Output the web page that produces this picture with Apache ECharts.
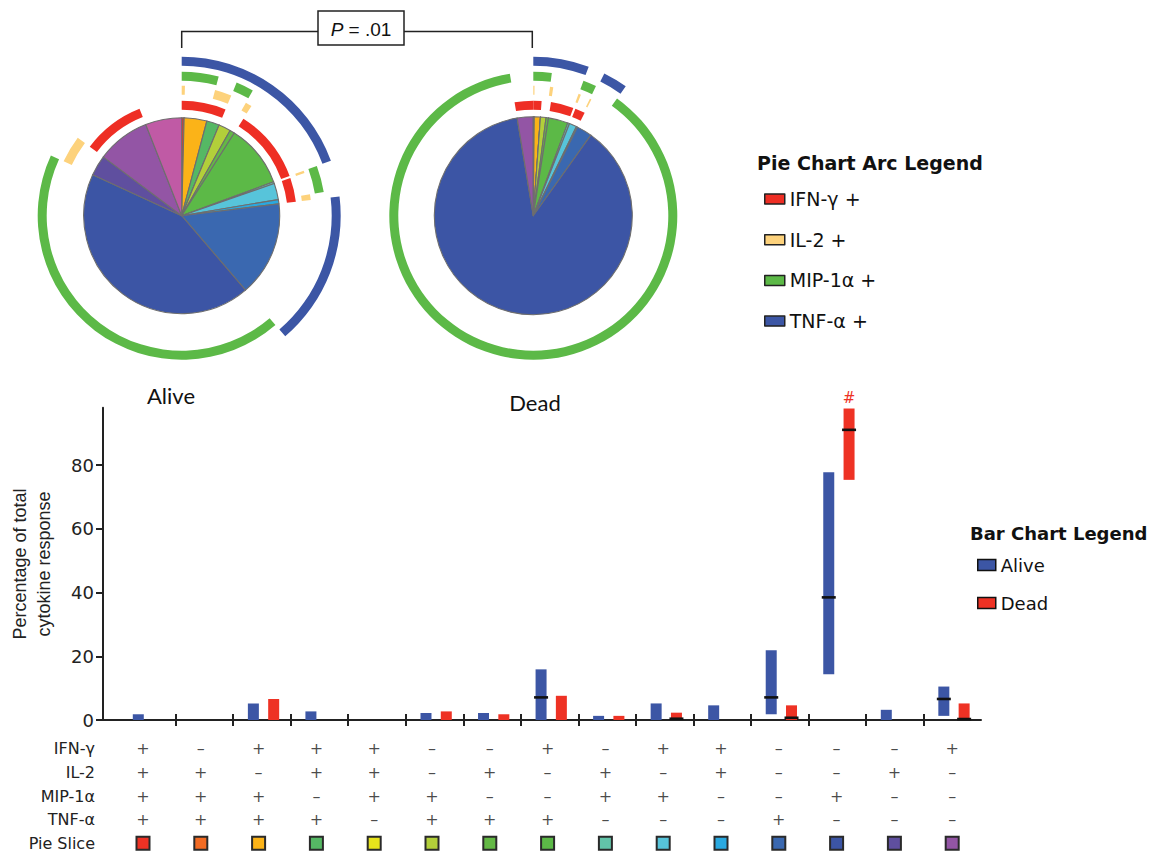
<!DOCTYPE html>
<html><head><meta charset="utf-8">
<script src="https://cdn.jsdelivr.net/npm/echarts@6.0.0/dist/echarts.min.js"></script>
<style>html,body{margin:0;padding:0;background:#fff}#c{width:1157px;height:855px}</style>
</head><body><div id="c"></div>
<script>
// ---------- DATA ----------
const cytokines = ['IFN-γ', 'IL-2', 'MIP-1α', 'TNF-α'];
const arcNames = ['IFN-γ +', 'IL-2 +', 'MIP-1α +', 'TNF-α +'];
// table of combinations (15 categories), 1 = +, 0 = –
const ifng = [1,0,1,1,1,0,0,1,0,1,1,0,0,0,1];
const il2  = [1,1,0,1,1,0,1,0,1,0,1,0,0,1,0];
const mip  = [1,1,1,0,1,1,0,0,1,1,0,0,1,0,0];
const tnf  = [1,1,1,1,0,1,1,1,0,0,0,1,0,0,0];
const sliceColors = ['#ee3224','#f26b23','#fbb318','#55b864','#e7e31c','#b2cf3a','#63b845','#5cb947',
                     '#62c4a9','#57c4da','#2aa9e0','#3a68b0','#3c55a5','#5f4f9f','#9355a5'];
const otherColor = '#c05aa5';
const sliceNames = ['1','2','3','4','5','6','7','8','9','10','11','12','13','14','15','Other'];
// pie slice shares (%) — same order as table columns, plus "Other"
const alivePie = [0.4, 0, 3.75, 2.1, 0, 2.0, 0.8, 10.4, 0.3, 2.7, 0.7, 15.7, 43.3, 3.4, 8.8, 6.0];
const deadPie  = [0.15, 0, 1.0, 0, 0, 0.9, 0.4, 3.2, 0.3, 1.2, 0.2, 2.5, 87.3, 0, 2.6, 0];
// bar chart: floating ranges with medians
const aliveLow    = [0,null,0,0,null,0,0,0,0,0,0,1.8,14.4,0,1.3];
const aliveHigh   = [1.8,null,5.2,2.7,null,2.2,2.2,15.9,1.3,5.2,4.6,21.9,77.8,3.2,10.5];
const aliveMedian = [null,null,null,null,null,null,null,7.1,null,null,null,7.1,38.5,null,6.6];
const deadLow     = [null,null,0,null,null,0,0,0,0,0,null,0,75.4,null,0];
const deadHigh    = [null,null,6.6,null,null,2.7,1.8,7.6,1.3,2.3,null,4.6,97.8,null,5.2];
const deadMedian  = [null,null,null,null,null,null,null,null,null,0.4,null,0.7,91.1,null,0.3];
const deadNote    = ['','','','','','','','','','','','','#','',''];
const yTicks = [0, 20, 40, 60, 80];
const yMax = 98;
const pValueText = '{i|P} = .01';

// ---------- STYLE / LAYOUT ----------
const FONT = 'DejaVu Sans';
const ARC_COLORS = ['#ee2e24', '#fdd27c', '#5cb947', '#3c56a5'];
const ALIVE_COLOR = '#3c56a5', DEAD_COLOR = '#ee3224';
const pieA = [181.7, 215.7], pieD = [533.3, 215.7];
const ringR = [[106, 115], [121, 130], [135, 144], [150, 159]];
const gridL = 99, gridR = 981, col0 = 143, colStep = 57.8;
const xMin = (gridL - col0) / colStep, xMax = (gridR - col0) / colStep;
const flags = [ifng, il2, mip, tnf];
const idx = ifng.map((_, i) => i);
const boundaries = idx.map(i => i + 0.5);

function pieSeries(name, vals, center, r) {
  return {
    type: 'pie', name: name, center: center, radius: [0, r], startAngle: 90, clockwise: true,
    silent: true, animation: false, label: { show: false }, labelLine: { show: false },
    emphasis: { disabled: true },
    itemStyle: { borderColor: '#6e6e6e', borderWidth: 1.1, opacity: 1 },
    data: vals.map((v, i) => ({ value: v, name: sliceNames[i], itemStyle: { color: i < 15 ? sliceColors[i] : otherColor } }))
  };
}
// arcs: consecutive slices positive for cytokine k are merged into one run
function ringSeries(k, vals, center, tag) {
  const runs = [];
  vals.forEach((v, i) => {
    if (!(v > 0)) return;
    const pos = i < 15 && flags[k][i] === 1;
    const last = runs[runs.length - 1];
    if (last && last.pos === pos) last.value += v;
    else runs.push({ pos: pos, value: v });
  });
  return {
    type: 'pie', name: arcNames[k], center: center, radius: ringR[k], startAngle: 90, clockwise: true,
    silent: true, animation: false, label: { show: false }, labelLine: { show: false },
    emphasis: { disabled: true },
    itemStyle: { borderWidth: 0 },
    data: runs.map((r, j) => ({ value: r.value, name: tag + k + '-' + j,
      itemStyle: { color: r.pos ? ARC_COLORS[k] : 'rgba(0,0,0,0)' } }))
  };
}
function barSeries(name, low, high, med, note, offset, color) {
  return {
    type: 'custom', name: name, xAxisIndex: 0, yAxisIndex: 0, clip: false, animation: false,
    itemStyle: { color: color },
    encode: { x: 0, y: [1, 2] },
    data: idx.filter(i => high[i] != null).map(i => [i, low[i], high[i]]),
    renderItem: function (params, api) {
      const i = api.value(0);
      const a = api.coord([i, api.value(1)]), b = api.coord([i, api.value(2)]);
      const cx = a[0] + offset;
      const ch = [{ type: 'rect', shape: { x: cx - 5.5, y: b[1], width: 11, height: a[1] - b[1] }, style: { fill: color } }];
      if (med[i] != null) {
        const m = api.coord([i, med[i]]);
        ch.push({ type: 'rect', shape: { x: cx - 7, y: m[1] - 1.3, width: 14, height: 2.6 }, style: { fill: '#111' } });
      }
      if (note && note[i]) {
        ch.push({ type: 'text', style: { text: note[i], x: cx, y: b[1] - 3, align: 'center', verticalAlign: 'bottom',
          fill: color, fontSize: 15, fontFamily: FONT } });
      }
      return { type: 'group', children: ch };
    }
  };
}

const series = [];
series.push(pieSeries('Alive pie', alivePie, pieA, 98));
series.push(pieSeries('Dead pie', deadPie, pieD, 99));
for (let k = 0; k < 4; k++) { series.push(ringSeries(k, alivePie, pieA, 'a')); series.push(ringSeries(k, deadPie, pieD, 'd')); }
series.push(barSeries('Alive', aliveLow, aliveHigh, aliveMedian, null, -8.5, ALIVE_COLOR));
series.push(barSeries('Dead', deadLow, deadHigh, deadMedian, deadNote, 11.8, DEAD_COLOR));
// table signs
const signData = [];
for (let r = 0; r < 4; r++) for (const i of idx)
  signData.push({ value: [i, r], label: { formatter: flags[r][i] ? '+' : '–' } });
series.push({ type: 'scatter', name: 'table', xAxisIndex: 2, yAxisIndex: 1, silent: true, animation: false,
  symbol: 'circle', symbolSize: 1, itemStyle: { color: 'rgba(0,0,0,0)' },
  label: { show: true, position: 'inside', fontSize: 16, fontFamily: FONT, color: '#1a1a1a' },
  data: signData });
series.push({ type: 'scatter', name: 'slices', xAxisIndex: 2, yAxisIndex: 1, silent: true, animation: false,
  symbol: 'rect', symbolSize: 13,
  data: idx.map(i => ({ value: [i, 4], itemStyle: { color: sliceColors[i], borderColor: '#2a2a2a', borderWidth: 2, opacity: 1 } })) });

const option = {
  animation: false,
  textStyle: { fontFamily: FONT },
  grid: [
    { left: gridL, width: gridR - gridL, top: 720 - yMax * 3.185, height: yMax * 3.185 },
    { left: gridL, width: gridR - gridL, top: 737, height: 122 }
  ],
  xAxis: [
    { type: 'value', gridIndex: 0, min: xMin, max: xMax, position: 'bottom',
      axisLine: { onZero: false, lineStyle: { color: '#222', width: 2 } },
      axisTick: { show: true, length: 6, customValues: boundaries, lineStyle: { color: '#222', width: 2 } },
      axisLabel: { show: false }, splitLine: { show: false } },
    { type: 'value', gridIndex: 0, min: xMin, max: xMax, position: 'bottom',
      axisLine: { show: false, onZero: false },
      axisTick: { show: true, inside: true, length: 6, customValues: boundaries, lineStyle: { color: '#222', width: 2 } },
      axisLabel: { show: false }, splitLine: { show: false } },
    { type: 'value', gridIndex: 1, min: xMin, max: xMax, show: false }
  ],
  yAxis: [
    { type: 'value', gridIndex: 0, min: 0, max: yMax,
      name: 'Percentage of total\ncytokine response', nameLocation: 'middle', nameGap: 47,
      nameTextStyle: { fontSize: 18, fontFamily: 'Liberation Sans', color: '#222', lineHeight: 24 },
      axisLine: { show: true, onZero: false, lineStyle: { color: '#222', width: 2 } },
      axisTick: { show: true, length: 7, customValues: yTicks, lineStyle: { color: '#222', width: 2 } },
      axisLabel: { customValues: yTicks, fontSize: 18, color: '#222', margin: 9, fontFamily: FONT },
      splitLine: { show: false } },
    { type: 'category', gridIndex: 1, inverse: true, data: cytokines.concat(['Pie Slice']),
      axisLine: { show: false, onZero: false }, axisTick: { show: false },
      axisLabel: { fontSize: 16, color: '#222', margin: 4, fontFamily: FONT } }
  ],
  legend: [
    { orient: 'vertical', left: 764, top: 188, itemWidth: 20, itemHeight: 10, itemGap: 18.7, padding: 0,
      selectedMode: false, icon: 'rect',
      textStyle: { fontSize: 19, color: '#111', lineHeight: 22, fontFamily: FONT },
      data: arcNames.map((n, k) => ({ name: n, itemStyle: { color: ARC_COLORS[k], borderColor: '#222', borderWidth: 1.5 } })) },
    { orient: 'vertical', left: 977, top: 554, itemWidth: 18, itemHeight: 11, itemGap: 16, padding: 0,
      selectedMode: false, icon: 'rect',
      textStyle: { fontSize: 18, color: '#111', lineHeight: 22, fontFamily: FONT },
      data: [{ name: 'Alive', itemStyle: { color: ALIVE_COLOR, borderColor: '#111', borderWidth: 1.5 } },
             { name: 'Dead', itemStyle: { color: DEAD_COLOR, borderColor: '#111', borderWidth: 1.5 } }] }
  ],
  graphic: [
    { type: 'polyline', silent: true, shape: { points: [[pieA[0], 48], [pieA[0], 31.5], [318, 31.5]] },
      style: { stroke: '#222', lineWidth: 1.5, fill: null } },
    { type: 'polyline', silent: true, shape: { points: [[404, 31.5], [pieD[0] - 1, 31.5], [pieD[0] - 1, 48]] },
      style: { stroke: '#222', lineWidth: 1.5, fill: null } },
    { type: 'rect', silent: true, shape: { x: 318, y: 11, width: 86, height: 34 },
      style: { fill: '#fff', stroke: '#222', lineWidth: 1.5 } },
    { type: 'text', silent: true, x: 361, y: 29,
      style: { text: pValueText, align: 'center', verticalAlign: 'middle', fontSize: 19, fontFamily: 'Liberation Sans', fill: '#111',
        rich: { i: { fontStyle: 'italic', fontSize: 19, fontFamily: 'Liberation Sans', fill: '#111' } } } },
    { type: 'text', silent: true, x: 171, y: 395,
      style: { text: 'Alive', align: 'center', verticalAlign: 'middle', fontSize: 22, fontFamily: 'Lato', fill: '#111' } },
    { type: 'text', silent: true, x: 535, y: 402,
      style: { text: 'Dead', align: 'center', verticalAlign: 'middle', fontSize: 22, fontFamily: 'Lato', fill: '#111' } },
    { type: 'text', silent: true, x: 757, y: 163,
      style: { text: 'Pie Chart Arc Legend', align: 'left', verticalAlign: 'middle', fontSize: 19, fontWeight: 'bold', fontFamily: FONT, fill: '#111' } },
    { type: 'text', silent: true, x: 970, y: 533,
      style: { text: 'Bar Chart Legend', align: 'left', verticalAlign: 'middle', fontSize: 18, fontWeight: 'bold', fontFamily: FONT, fill: '#111' } }
  ],
  series: series
};
const chart = echarts.init(document.getElementById('c'), null, { renderer: 'svg' });
chart.setOption(option);
</script></body></html>
